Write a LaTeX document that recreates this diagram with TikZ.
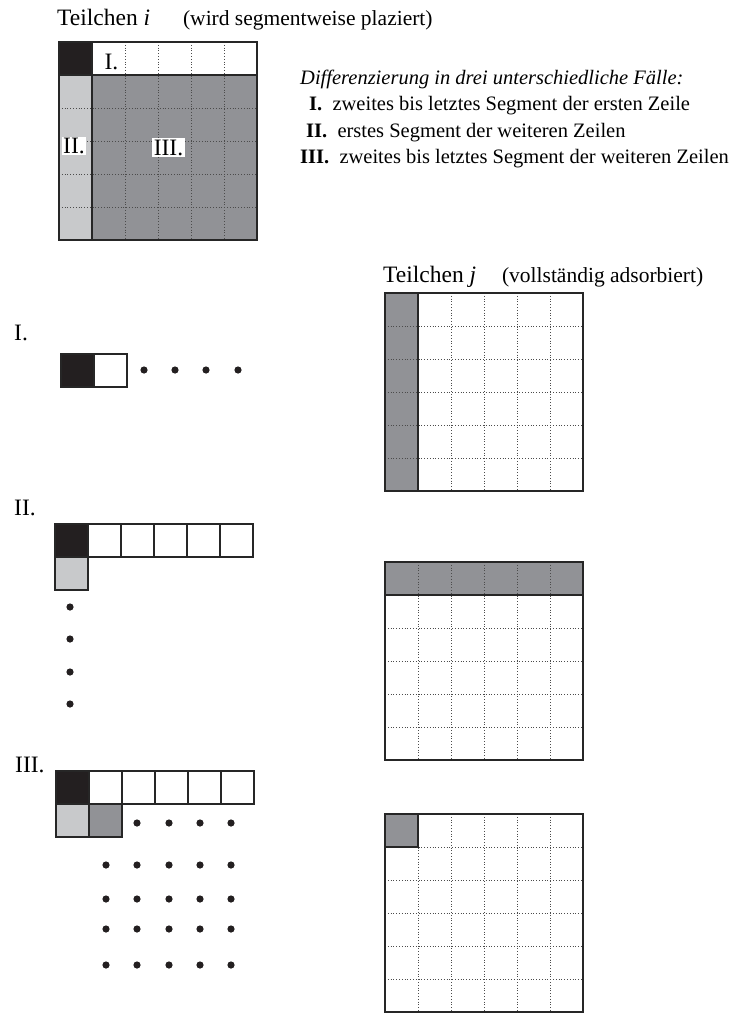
\documentclass[tikz,border=0pt]{standalone}
\usepackage{fontspec}
\setmainfont{Liberation Serif}
\definecolor{segblack}{RGB}{35,31,32}
\definecolor{seglight}{RGB}{200,201,203}
\definecolor{segdark}{RGB}{145,146,150}
\newcommand{\segmentgrid}[2]{%
  \foreach \k in {1,...,5} {
    \draw[gridline] (#1+\k*33,#2) -- ++(0,198);
    \draw[gridline] (#1,#2+\k*33) -- ++(198,0);
  }}
\newcommand{\subnote}[1]{{\fontsize{21.5}{25}\selectfont #1}}

\begin{document}
\begin{tikzpicture}[
    x=1pt, y=-1pt,
    every node/.style={inner sep=0pt, font=\fontsize{23.5}{27}\selectfont},
    title/.style={anchor=base west},
    legend/.style={anchor=base west, font=\fontsize{20.5}{24}\selectfont},
    tag/.style={fill=white, inner sep=1.5pt},
    frame/.style={line width=1.8pt, draw=black!85},
    cellbox/.style={line width=1.5pt, draw=black!85},
    gridline/.style={line width=0.8pt, dotted, draw=black!70},
    dotmark/.style={fill=segblack}
]
\fill[white] (0,0) rectangle (733,1014);
\useasboundingbox (0,0) rectangle (733,1014);

% Teilchen i
\node[title] (titlei) at (57,26) {Teilchen \textit{i}\hspace{1.4em}\subnote{(wird segmentweise plaziert)}};
\fill[segdark] (59,42) rectangle ++(198,198);
\fill[white] (92,42) rectangle ++(165,33);
\fill[seglight] (59,75) rectangle ++(33,165);
\fill[segblack] (59,42) rectangle ++(33,33);
\segmentgrid{59}{42}
\draw[frame] (59,75) -- ++(198,0) (92,42) -- ++(0,198);
\draw[frame] (59,42) rectangle ++(198,198);
\node[tag] (tagi) at (111.5,61.5) {I.};
\node[tag] (tagii) at (74,146) {II.};
\node[tag] (tagiii) at (168.5,147.5) {III.};

% legend
\node[legend] (legendhead) at (300,85) {\textit{Differenzierung in drei unterschiedliche Fälle:}};
\node[legend] (legendi) at (309,111) {\textbf{I.}\ \ zweites bis letztes Segment der ersten Zeile};
\node[legend] (legendii) at (306,137) {\textbf{II.}\ \ erstes Segment der weiteren Zeilen};
\node[legend] (legendiii) at (300,163) {\textbf{III.}\ \ zweites bis letztes Segment der weiteren Zeilen};

% Teilchen j
\node[title] (titlej) at (383,282) {Teilchen \textit{j}\hspace{1.1em}\subnote{(vollständig adsorbiert)}};

% case I
\node[title] (casei) at (14,340) {I.};
\filldraw[cellbox, fill=segblack] (61,354) rectangle ++(33,33);
\filldraw[cellbox, fill=white] (94,354) rectangle ++(33,33);
\foreach \x in {144,175,206,238}
  \fill[dotmark] (\x,370) circle (3.6pt);

\fill[segdark] (385,293) rectangle ++(33,198);
\segmentgrid{385}{293}
\draw[frame] (418,293) -- ++(0,198);
\draw[frame] (385,293) rectangle ++(198,198);

% case II
\node[title] (caseii) at (14,515) {II.};
\filldraw[cellbox, fill=segblack] (55,524) rectangle ++(33,33);
\foreach \k in {0,...,4}
  \filldraw[cellbox, fill=white] (88+\k*33,524) rectangle ++(33,33);
\filldraw[cellbox, fill=seglight] (55,557) rectangle ++(33,33);
\foreach \y in {607,639,672,704}
  \fill[dotmark] (70,\y) circle (3.6pt);

\fill[segdark] (385,562) rectangle ++(198,33);
\segmentgrid{385}{562}
\draw[frame] (385,595) -- ++(198,0);
\draw[frame] (385,562) rectangle ++(198,198);

% case III
\node[title] (caseiii) at (15,772) {III.};
\filldraw[cellbox, fill=segblack] (56,771) rectangle ++(33,33);
\foreach \k in {0,...,4}
  \filldraw[cellbox, fill=white] (89+\k*33,771) rectangle ++(33,33);
\filldraw[cellbox, fill=seglight] (56,804) rectangle ++(33,33);
\filldraw[cellbox, fill=segdark] (89,804) rectangle ++(33,33);
\foreach \x in {137,169,200,231}
  \fill[dotmark] (\x,823) circle (3.6pt);
\foreach \y in {865,899,929,965}
  \foreach \x in {106,137,169,200,231}
    \fill[dotmark] (\x,\y) circle (3.6pt);

\fill[segdark] (385,814) rectangle ++(33,33);
\segmentgrid{385}{814}
\draw[frame] (385,814) rectangle ++(33,33);
\draw[frame] (385,814) rectangle ++(198,198);
\end{tikzpicture}
\end{document}
